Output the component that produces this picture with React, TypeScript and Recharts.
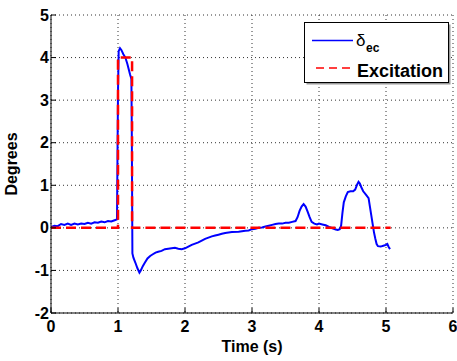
import React from 'react';
import { LineChart, Line, XAxis, YAxis, CartesianGrid, Legend, Label } from 'recharts';

const deltaTime = [
  0, 0.05, 0.1, 0.15, 0.2, 0.25, 0.3, 0.35, 0.4, 0.45, 0.5, 0.55, 0.6, 0.65, 0.7, 0.75, 0.8, 0.85, 0.9, 0.95, 0.985,
  1.0, 1.01, 1.03, 1.05, 1.08, 1.11, 1.14, 1.18, 1.2, 1.205, 1.21, 1.215, 1.23, 1.26, 1.29, 1.32, 1.34, 1.37, 1.4,
  1.44, 1.48, 1.52, 1.56, 1.6, 1.65, 1.7, 1.75, 1.8, 1.85, 1.9, 1.95, 2.0, 2.05, 2.1, 2.15, 2.2, 2.25, 2.3, 2.35,
  2.4, 2.45, 2.5, 2.55, 2.6, 2.7, 2.8, 2.9, 2.95, 3.0, 3.05, 3.1, 3.15, 3.2, 3.25, 3.3, 3.35, 3.4, 3.45, 3.5, 3.55,
  3.6, 3.65, 3.68, 3.71, 3.74, 3.77, 3.8, 3.83, 3.86, 3.89, 3.93, 3.97, 4.0, 4.05, 4.1, 4.15, 4.2, 4.25, 4.28, 4.31,
  4.33, 4.35, 4.37, 4.4, 4.43, 4.47, 4.51, 4.54, 4.57, 4.59, 4.61, 4.63, 4.66, 4.7, 4.74, 4.76, 4.78, 4.8, 4.82,
  4.84, 4.86, 4.88, 4.92, 4.96, 5.0, 5.02, 5.04, 5.06,
];
const deltaValues = [
  0.02, 0.05, 0.04, 0.09, 0.07, 0.1, 0.07, 0.1, 0.08, 0.1, 0.09, 0.12, 0.1, 0.13, 0.12, 0.15, 0.13, 0.16, 0.15, 0.18, 0.2,
  3.2, 4.15, 4.22, 4.18, 4.08, 4.0, 3.85, 3.6, 3.5, 2.5, 1.0, -0.6, -0.7, -0.82, -0.95, -1.05, -1.0, -0.9, -0.82,
  -0.72, -0.66, -0.62, -0.58, -0.56, -0.54, -0.5, -0.49, -0.48, -0.47, -0.49, -0.5, -0.48, -0.44, -0.4, -0.37, -0.34, -0.3, -0.26, -0.23,
  -0.2, -0.18, -0.16, -0.14, -0.12, -0.1, -0.09, -0.07, -0.06, -0.03, -0.02, 0.0, 0.01, 0.03, 0.05, 0.07, 0.09, 0.1, 0.1, 0.12, 0.12,
  0.14, 0.16, 0.25, 0.4, 0.5, 0.56, 0.5, 0.38, 0.25, 0.14, 0.1, 0.08, 0.1, 0.08, 0.06, 0.02, -0.01, -0.04, -0.05, -0.03,
  0.05, 0.35, 0.6, 0.74, 0.84, 0.86, 0.86, 0.9, 1.02, 1.08, 1.04, 0.96, 0.86, 0.78, 0.7, 0.5, 0.3, 0.1, -0.1,
  -0.25, -0.38, -0.43, -0.44, -0.42, -0.4, -0.38, -0.45, -0.5,
];
const excitationTime = [0, 1.0, 1.0, 1.21, 1.21, 5.07];
const excitationValues = [0, 0, 4, 4, 0, 0];

const xTicks = [0, 1, 2, 3, 4, 5, 6];
const yTicks = [-2, -1, 0, 1, 2, 3, 4, 5];

const deltaData = deltaTime.map((t, i) => ({ t, v: deltaValues[i] }));
const excitationData = excitationTime.map((t, i) => ({ t, v: excitationValues[i] }));

const FONT = '"Liberation Sans", Arial, Helvetica, sans-serif';
const TICK_LEN = 5;

const BottomTick = (props: any) => {
  const { x, y, payload } = props;
  return (
    <g>
      <line x1={x} x2={x} y1={y} y2={y - TICK_LEN} stroke="#000" />
      <text x={x} y={y + 19} textAnchor="middle" fontFamily={FONT} fontWeight="bold" fontSize={16} fill="#000">
        {payload.value}
      </text>
    </g>
  );
};
const TopTick = (props: any) => {
  const { x, y } = props;
  return <line x1={x} x2={x} y1={y} y2={y + TICK_LEN} stroke="#000" />;
};
const LeftTick = (props: any) => {
  const { x, y, payload } = props;
  return (
    <g>
      <line x1={x} x2={x + TICK_LEN} y1={y} y2={y} stroke="#000" />
      <text x={x - 2} y={y + 5.5} textAnchor="end" fontFamily={FONT} fontWeight="bold" fontSize={16} fill="#000">
        {payload.value}
      </text>
    </g>
  );
};
const RightTick = (props: any) => {
  const { x, y } = props;
  return <line x1={x} x2={x - TICK_LEN} y1={y} y2={y} stroke="#000" />;
};

const LegendBox = () => (
  <svg width={150} height={66} style={{ display: 'block' }}>
    <rect x={2.5} y={2.5} width={144} height={60} fill="#999" />
    <rect x={0.5} y={0.5} width={144} height={60} fill="#fff" stroke="#000" />
    <line x1={8} x2={49} y1={18.5} y2={18.5} stroke="#0000ff" strokeWidth={1.5} />
    <text x={52} y={24} fontFamily={FONT} fontSize={17} fill="#000">δ</text>
    <text x={62} y={30} fontFamily={FONT} fontWeight="bold" fontSize={12} fill="#000">ec</text>
    <line x1={12} x2={49} y1={46} y2={46} stroke="#ff0000" strokeWidth={1.5} strokeDasharray="8 5" />
    <text x={53} y={55} fontFamily={FONT} fontWeight="bold" fontSize={18} fill="#000">Excitation</text>
  </svg>
);

const YLabel = (props: any) => {
  const vb = props.viewBox;
  const cx = vb.x + 17;
  const cy = vb.y + vb.height / 2;
  return (
    <text x={cx} y={cy} transform={`rotate(-90, ${cx}, ${cy})`} textAnchor="middle" fontFamily={FONT} fontWeight="bold" fontSize={16} fill="#000">
      Degrees
    </text>
  );
};
const XLabel = (props: any) => {
  const vb = props.viewBox;
  const cx = vb.x + vb.width / 2;
  return (
    <text x={cx} y={vb.y + 39} textAnchor="middle" fontFamily={FONT} fontWeight="bold" fontSize={16} fill="#000">
      Time (s)
    </text>
  );
};

export default function App() {
  return (
    <div style={{ position: 'absolute', left: 0, top: 0, width: 457, height: 361, background: '#fff' }}>
      <LineChart width={457} height={361} margin={{ top: 15, right: 4, bottom: 0, left: 0 }}>
        <CartesianGrid stroke="#333" strokeDasharray="1 3" fill="none" />
        <XAxis
          dataKey="t"
          type="number"
          domain={[0, 6]}
          ticks={xTicks}
          allowDataOverflow
          height={48}
          tickSize={0}
          tickMargin={0}
          axisLine={{ stroke: '#000' }}
          tickLine={false}
          tick={BottomTick}
          interval={0}
        >
          <Label content={XLabel} />
        </XAxis>
        <XAxis
          xAxisId="top"
          orientation="top"
          dataKey="t"
          type="number"
          domain={[0, 6]}
          ticks={xTicks}
          allowDataOverflow
          height={0}
          tickSize={0}
          tickMargin={0}
          axisLine={{ stroke: '#000' }}
          tickLine={false}
          tick={TopTick}
          interval={0}
        />
        <YAxis
          type="number"
          domain={[-2, 5]}
          ticks={yTicks}
          allowDataOverflow
          width={51}
          tickSize={0}
          tickMargin={0}
          axisLine={{ stroke: '#000' }}
          tickLine={false}
          tick={LeftTick}
          interval={0}
        >
          <Label content={YLabel} />
        </YAxis>
        <YAxis
          yAxisId="right"
          orientation="right"
          type="number"
          domain={[-2, 5]}
          ticks={yTicks}
          allowDataOverflow
          width={0}
          tickSize={0}
          tickMargin={0}
          axisLine={{ stroke: '#000' }}
          tickLine={false}
          tick={RightTick}
          interval={0}
        />
        <Legend
          layout="vertical"
          align="center"
          verticalAlign="middle"
          content={LegendBox}
          wrapperStyle={{ position: 'absolute', left: 304, top: 22, width: 150, height: 66 }}
        />
        <Line
          data={deltaData}
          dataKey="v"
          type="linear"
          stroke="#0000ff"
          strokeWidth={2}
          dot={false}
          activeDot={false}
          isAnimationActive={false}
          legendType="none"
        />
        <Line
          data={excitationData}
          dataKey="v"
          type="linear"
          stroke="#ff0000"
          strokeWidth={2.5}
          strokeDasharray="10 5"
          dot={false}
          activeDot={false}
          isAnimationActive={false}
          legendType="none"
        />
      </LineChart>
    </div>
  );
}
